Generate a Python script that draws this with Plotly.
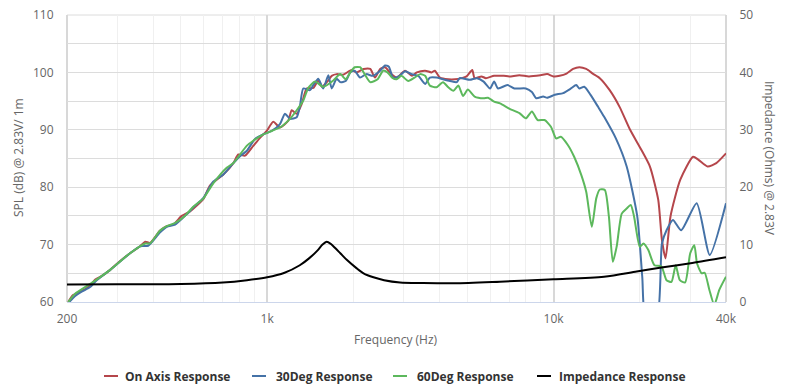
import plotly.graph_objects as go

# ---------------- data ----------------
freq_on = [202, 210, 222, 234, 247, 251, 264, 283, 306, 332, 360, 375, 390, 422, 446, 470, 503, 538, 568, 598,
           632, 703, 762, 793, 837, 894, 944, 996, 1050, 1108, 1185, 1218, 1268, 1320, 1374, 1449, 1508, 1550,
           1635, 1680, 1750, 1840, 1970, 2050, 2170, 2290, 2380, 2480, 2580, 2680, 2830, 3030, 3200, 3330, 3560,
           3750, 3850, 4010, 4290, 4530, 4780, 4970, 5200, 5300, 5600, 5800, 6200, 6700, 7000, 7600, 8200, 9000,
           9500, 10000, 10500, 11100, 11700, 12300, 13000, 13700, 14500, 15700, 17000, 18500, 20100, 21700,
           23200, 23900, 24600, 25600, 27700, 30700, 32000, 34500, 37000, 40000]
spl_on = [60.0, 61.2, 61.8, 62.4, 63.5, 63.9, 64.5, 65.6, 67.1, 68.5, 69.7, 70.5, 70.3, 72.4, 73.2, 73.5, 75.0, 75.8, 76.8, 77.9,
          80.3, 82.2, 84.2, 85.7, 85.5, 87.2, 88.6, 89.8, 91.4, 90.4, 91.6, 93.4, 92.8, 94.5, 97.2, 97.3, 98.6, 97.5,
          98.6, 99.4, 99.7, 99.6, 100.4, 100.0, 100.6, 100.6, 99.1, 100.6, 100.9, 100.0, 99.1, 100.3, 99.4, 100.0, 100.3,
          100.0, 100.3, 99.1, 98.8, 98.8, 99.0, 99.3, 100.4, 99.0, 99.3, 99.0, 99.4, 99.4, 99.3, 99.5, 99.3, 99.5,
          99.7, 99.3, 99.4, 99.8, 100.6, 100.9, 100.6, 99.8, 99.0, 96.9, 94.0, 90.0, 86.8, 83.6,
          77.8, 70.8, 67.6, 74.9, 81.3, 85.3, 84.8, 83.6, 84.2, 85.9]

freq_30 = [202, 213, 225, 241, 254, 283, 332, 360, 384, 422, 446, 477, 516, 530, 552, 598, 649, 703, 762, 804,
           848, 907, 969, 1037, 1108, 1154, 1201, 1268, 1302, 1337, 1411, 1449, 1508, 1570, 1635, 1680, 1749,
           1800, 1880, 1950, 2020, 2110, 2220, 2340, 2480, 2580, 2660, 2750, 2900, 3030, 3200, 3370, 3560, 3700,
           3900, 4110, 4350, 4590, 4700, 5100, 5400, 5700, 6000, 6200, 6400, 6900, 7300, 8000, 8400, 8700, 9200,
           9500, 10100, 10800, 11500, 12000, 12300, 12800, 13500, 14300, 15000, 16500, 18000, 19600, 20400,
           21000, 22900, 23900, 24800, 26100, 27900, 31600, 35100, 40000]
spl_30 = [59.8, 61.0, 61.8, 62.6, 63.8, 65.6, 68.5, 69.7, 69.8, 72.1, 73.1, 73.5, 75.0, 75.5, 76.5, 78.1, 81.0, 82.2, 84.2, 85.4,
          86.3, 88.4, 89.2, 89.8, 91.0, 92.8, 91.9, 92.2, 94.2, 97.2, 96.9, 97.8, 98.9, 97.2, 99.5, 97.2, 98.9,
          98.3, 98.5, 100.0, 100.3, 99.1, 99.7, 99.4, 100.3, 101.2, 101.0, 99.1, 99.4, 100.2, 99.7, 99.4, 98.0, 99.1,
          99.1, 98.8, 98.5, 98.3, 99.0, 98.7, 99.0, 98.4, 97.2, 98.4, 97.2, 97.8, 97.2, 97.2, 96.6, 95.5, 95.8,
          95.6, 96.1, 96.4, 97.2, 97.8, 97.2, 97.5, 96.0, 94.0, 92.3, 88.5, 83.6, 74.9, 64.4,
          57.0, 57.0, 70.2, 72.5, 74.3, 72.5, 77.2, 68.2, 77.2]

freq_60 = [202, 213, 247, 283, 332, 375, 390, 422, 446, 477, 516, 552, 598, 649, 722, 762, 848, 894, 969, 1037,
           1108, 1201, 1268, 1337, 1392, 1469, 1570, 1702, 1800, 1880, 1950, 2020, 2110, 2190, 2290, 2430, 2540,
           2630, 2730, 2830, 2940, 3110, 3270, 3420, 3560, 3700, 3900, 4110, 4290, 4470, 4650, 4830, 5020, 5300,
           5700, 5900, 6200, 6500, 7000, 7600, 8000, 8400, 8800, 9300, 9800, 10200, 10600, 11200, 11800, 12500,
           13000, 13600, 14100, 14500, 15100, 15600, 16100, 16600, 17300, 18000, 18600, 19100, 20000, 20600,
           21400, 22500, 23800, 24800, 25800, 26700, 27600, 28800, 30000, 31000, 31700, 32900, 33700, 35000,
           36400, 37900, 40000]
spl_60 = [60.0, 61.4, 63.5, 65.6, 68.5, 70.2, 70.2, 72.4, 73.2, 73.8, 75.0, 76.6, 78.0, 80.7, 83.4, 84.2, 87.2, 88.1, 89.2, 89.8,
          90.4, 91.9, 93.4, 95.1, 97.3, 98.4, 97.5, 98.6, 99.7, 98.8, 100.0, 100.9, 100.9, 99.7, 98.3, 98.8, 100.3,
          100.0, 99.1, 98.8, 99.4, 98.5, 99.1, 99.7, 99.4, 97.7, 97.4, 98.3, 97.4, 96.8, 97.7, 95.9, 97.0, 95.8,
          95.5, 95.6, 94.9, 94.6, 93.7, 92.9, 92.0, 93.2, 91.7, 91.7, 90.5, 88.5, 88.8, 87.4, 85.3, 82.1,
          79.2, 73.1, 78.1, 79.6, 79.5, 74.9, 67.0, 69.6, 75.4, 76.3, 76.9, 74.9, 69.6, 70.2,
          69.1, 66.4, 66.2, 63.8, 63.5, 66.4, 63.8, 63.4, 68.5, 69.9, 66.7, 65.0, 65.1, 62.1,
          59.5, 62.1, 64.4]

freq_imp = [200, 300, 500, 700, 850, 1000, 1150, 1300, 1400, 1500, 1560, 1614, 1670, 1720, 1800, 1900, 2050,
            2170, 2350, 2560, 2910, 3500, 4500, 6500, 10000, 15000, 19500, 23800, 30500, 40000]
imp = [3.05, 3.08, 3.15, 3.4, 3.8, 4.3, 5.1, 6.4, 7.6, 9.0, 10.0, 10.5, 10.1, 9.5, 8.5, 7.3, 5.9,
       5.0, 4.3, 3.8, 3.4, 3.3, 3.26, 3.54, 3.95, 4.4, 5.3, 6.0, 6.8, 7.8]

x_tickvals = [200, 1000, 10000, 40000]
x_ticktext = ["200", "1k", "10k", "40k"]
x_minor = [300, 400, 500, 600, 700, 800, 900, 2000, 3000, 4000, 5000, 6000, 7000, 8000, 9000, 20000, 30000]
y_tickvals = [60, 70, 80, 90, 100, 110]
y2_tickvals = [0, 10, 20, 30, 40, 50]

series_names = ["On Axis Response", "30Deg Response", "60Deg Response", "Impedance Response"]
colors = ["#b5464b", "#4572a7", "#5cb85c", "#000000"]

# ---------------- figure ----------------
W, H = 785, 389
L, T, R, B = 67, 15, 785 - 726, 389 - 302
PW, PH = W - L - R, H - T - B


def px(x):  # page pixel -> paper
    return (x - L) / PW


def py(y):
    return (H - B - y) / PH


FONT = "Open Sans"
fig = go.Figure()
for f, v, name, c in [(freq_on, spl_on, series_names[0], colors[0]),
                      (freq_30, spl_30, series_names[1], colors[1]),
                      (freq_60, spl_60, series_names[2], colors[2])]:
    fig.add_trace(go.Scatter(x=f, y=v, name=name, mode="lines",
                             line=dict(color=c, width=2, shape="spline", smoothing=0.6),
                             showlegend=False))
fig.add_trace(go.Scatter(x=freq_imp, y=imp, name=series_names[3], mode="lines", yaxis="y2",
                         line=dict(color=colors[3], width=2, shape="spline", smoothing=0.8),
                         showlegend=False))

fig.update_layout(
    width=W, height=H,
    margin=dict(l=L, r=R, t=T, b=B),
    paper_bgcolor="white", plot_bgcolor="white",
    font=dict(family=FONT, size=12, color="#666666"),
    xaxis=dict(type="log", range=[2.30103, 4.60206],
               tickvals=x_tickvals, ticktext=x_ticktext,
               showgrid=True, gridcolor="#d8d8d8", gridwidth=2,
               ticks="outside", ticklen=6, tickcolor="rgba(0,0,0,0)",
               showline=True, linecolor="#ccd6eb", linewidth=1,
               zeroline=False, automargin=False, ticklabeloverflow="allow",
               minor=dict(tickvals=x_minor, showgrid=True, gridcolor="#f0f0f0", gridwidth=1, ticks="")),
    yaxis=dict(range=[60, 110], tickvals=y_tickvals,
               showgrid=True, gridcolor="#dcdcdc", gridwidth=1,
               ticks="outside", ticklen=10, tickcolor="rgba(0,0,0,0)",
               zeroline=False, showline=False, automargin=False, ticklabeloverflow="allow",
               minor=dict(dtick=5, showgrid=True, gridcolor="#dcdcdc", gridwidth=1, ticks="")),
    yaxis2=dict(range=[0, 50], tickvals=y2_tickvals, overlaying="y", side="right",
                showgrid=False, zeroline=False, showline=False, automargin=False, ticklabeloverflow="allow",
                ticks="outside", ticklen=10, tickcolor="rgba(0,0,0,0)"),
)

# plot frame: top gridline and the grey edge lines at 200 Hz and 40 kHz
fig.add_shape(type="line", xref="paper", yref="paper", x0=0, x1=1, y0=1, y1=1,
              line=dict(color="#dcdcdc", width=1), layer="below")
for xe in (0, 1):
    fig.add_shape(type="line", xref="paper", yref="paper", x0=xe, x1=xe, y0=0, y1=1,
                  line=dict(color="#d8d8d8", width=2), layer="below")

annotations = [
    dict(text="Frequency (Hz)", x=px(396), y=py(339), xanchor="center", yanchor="middle"),
    dict(text="SPL (dB) @ 2.83V/ 1m", x=px(18), y=py(158), xanchor="center", yanchor="middle", textangle=-90),
    dict(text="Impedance (Ohms) @ 2.83V", x=px(770), y=py(158), xanchor="center", yanchor="middle", textangle=90),
]
for a in annotations:
    a.update(xref="paper", yref="paper", showarrow=False, font=dict(family=FONT, size=12, color="#666666"))
    fig.add_annotation(**a)

legend_pos = [(104, 118, 123), (252, 266, 274), (393, 407, 415), (537, 551, 557)]
ly = 376
for (x0, x1, xt), name, c in zip(legend_pos, series_names, colors):
    fig.add_shape(type="line", xref="paper", yref="paper", x0=px(x0), x1=px(x1), y0=py(ly), y1=py(ly),
                  line=dict(color=c, width=2))
    fig.add_annotation(text=name, xref="paper", yref="paper", x=px(xt), y=py(ly), xanchor="left",
                       yanchor="middle", showarrow=False,
                       font=dict(family=FONT, size=12, color="#333333", weight="bold"))

# remove the default 8px page margin so the 785x389 figure fills the window exactly
fig.write_html("out.html", config={"displayModeBar": False},
               post_script="document.body.style.margin='0';document.body.style.overflow='hidden';")
